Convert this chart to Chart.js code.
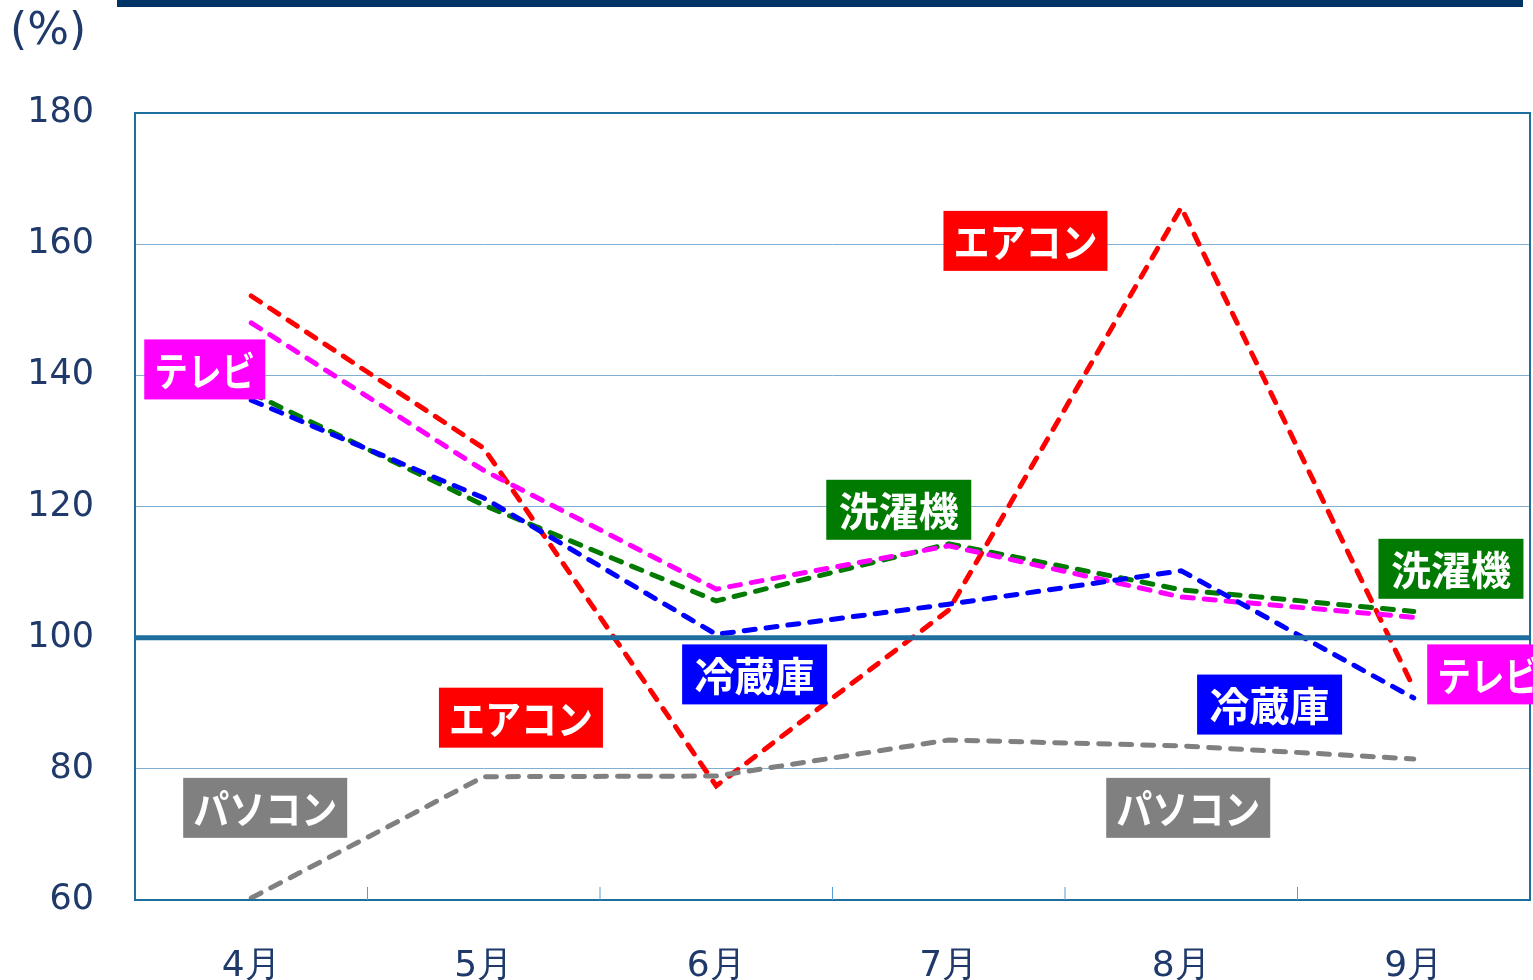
<!DOCTYPE html>
<html>
<head>
  <meta charset="utf-8" />
  <title>家電 前年比</title>
  <style>
    html, body { margin: 0; padding: 0; background: #fff; }
  </style>
</head>
<body>
  <canvas id="stage" width="1533" height="980"></canvas>

  <script src="https://cdn.jsdelivr.net/npm/chart.js@4/dist/chart.umd.min.js"></script>
  <script>
    // 月
    const months = ['4月', '5月', '6月', '7月', '8月', '9月'];
    // 前年同月比 (%)
    const aircon  = [152.1, 128.9, 77.4, 104.2, 165.6, 92.3];
    const tv      = [148.0, 125.5, 107.4, 114.0, 106.2, 103.1];
    const washer  = [137.3, 120.2, 105.6, 114.3, 107.3, 104.0];
    const fridge  = [136.2, 121.3, 100.5, 105.1, 110.2, 90.8];
    const pc      = [60.3, 78.8, 78.9, 84.4, 83.5, 81.5];
    const yTicks  = [60, 80, 100, 120, 140, 160, 180];

    // ラベル (名前, 色, 月の位置, 値)
    const tags = [
      ['テレビ',   '#ff00ff', -0.2, 140.9],
      ['パソコン', '#808080', 0.06, 74.05],
      ['エアコン', '#ff0000', 1.16, 87.8],
      ['冷蔵庫',   '#0000ff', 2.165, 94.4],
      ['エアコン', '#ff0000', 3.33, 160.5],
      ['洗濯機',   '#007a00', 2.785, 119.5],
      ['洗濯機',   '#007a00', 5.16, 110.5],
      ['テレビ',   '#ff00ff', 5.318, 94.4],
      ['冷蔵庫',   '#0000ff', 4.38, 89.8],
      ['パソコン', '#808080', 4.03, 74.05],
    ];

    const navy = '#1f3a6a';
    const axisBlue = '#1f6ea0';
    const boxW = { 'テレビ': 121, 'パソコン': 164, 'エアコン': 164, '冷蔵庫': 145, '洗濯機': 145 };

    const extras = {
      id: 'extras',
      beforeDraw(chart) {
        const ctx = chart.ctx;
        ctx.save();
        ctx.fillStyle = '#003366';
        ctx.fillRect(117, 0, 1406, 7);
        ctx.fillStyle = navy;
        ctx.font = '44px "DejaVu Sans"';
        ctx.textBaseline = 'middle';
        ctx.fillText('(%)', 10, 33);
        ctx.restore();
      },
      afterDatasetsDraw(chart) {
        const ctx = chart.ctx;
        const x = chart.scales.x, y = chart.scales.y;
        const a = chart.chartArea;
        ctx.save();
        // 枠
        ctx.strokeStyle = axisBlue;
        ctx.lineWidth = 2;
        ctx.strokeRect(a.left, a.top, a.right - a.left, a.bottom - a.top);
        // 100 の線
        ctx.lineWidth = 5;
        ctx.beginPath();
        ctx.moveTo(a.left, y.getPixelForValue(100));
        ctx.lineTo(a.right, y.getPixelForValue(100));
        ctx.stroke();
        // 目盛
        ctx.lineWidth = 1;
        ctx.strokeStyle = '#5b9bd5';
        for (let i = 0; i < months.length - 1; i++) {
          const px = (x.getPixelForValue(i) + x.getPixelForValue(i + 1)) / 2;
          ctx.beginPath();
          ctx.moveTo(px, a.bottom);
          ctx.lineTo(px, a.bottom - 13);
          ctx.stroke();
        }
        // ラベル
        ctx.font = 'bold 40px "Noto Sans CJK JP"';
        ctx.textAlign = 'center';
        ctx.textBaseline = 'middle';
        tags.forEach(([name, col, xi, v]) => {
          const cx = x.getPixelForValue(0) + xi * (x.getPixelForValue(1) - x.getPixelForValue(0));
          const cy = y.getPixelForValue(v);
          const w = boxW[name];
          ctx.fillStyle = col;
          ctx.fillRect(cx - w / 2, cy - 30, w, 60);
          ctx.fillStyle = '#fff';
          const tw = ctx.measureText(name).width;
          const maxW = w - 20;
          ctx.save();
          ctx.translate(cx, cy + 1);
          if (tw > maxW) ctx.scale(maxW / tw, 1);
          ctx.fillText(name, 0, 0);
          ctx.restore();
        });
        ctx.restore();
      }
    };

    function line(label, data, color) {
      return {
        label, data,
        borderColor: color,
        borderWidth: 5,
        borderDash: [11, 11],
        borderCapStyle: 'round',
        pointRadius: 0,
        fill: false,
        tension: 0,
      };
    }

    new Chart(document.getElementById('stage'), {
      type: 'line',
      data: {
        labels: months,
        datasets: [
          line('パソコン', pc, '#808080'),
          line('冷蔵庫', fridge, '#0000ff'),
          line('テレビ', tv, '#ff00ff'),
          line('洗濯機', washer, '#007a00'),
          line('エアコン', aircon, '#ff0000'),
        ]
      },
      options: {
        responsive: false,
        animation: false,
        devicePixelRatio: 1,
        layout: { padding: { top: 113, right: 3, left: 0, bottom: 0 } },
        plugins: { legend: { display: false }, tooltip: { enabled: false } },
        scales: {
          x: {
            offset: true,
            grid: { display: false },
            border: { display: false },
            ticks: { color: navy, font: { family: 'DejaVu Sans', size: 36 }, padding: 37 },
            afterFit(s) { s.height = 80; }
          },
          y: {
            min: 60, max: 180,
            afterBuildTicks(s) { s.ticks = yTicks.map(v => ({ value: v })); },
            grid: {
              color: '#7fb0d4',
              lineWidth: 1,
              drawTicks: false,
            },
            border: { display: false },
            ticks: { color: navy, font: { family: 'DejaVu Sans', size: 35 }, padding: 41 },
            afterFit(s) { s.width = 135; }
          }
        }
      },
      plugins: [extras]
    });
  </script>
</body>
</html>
